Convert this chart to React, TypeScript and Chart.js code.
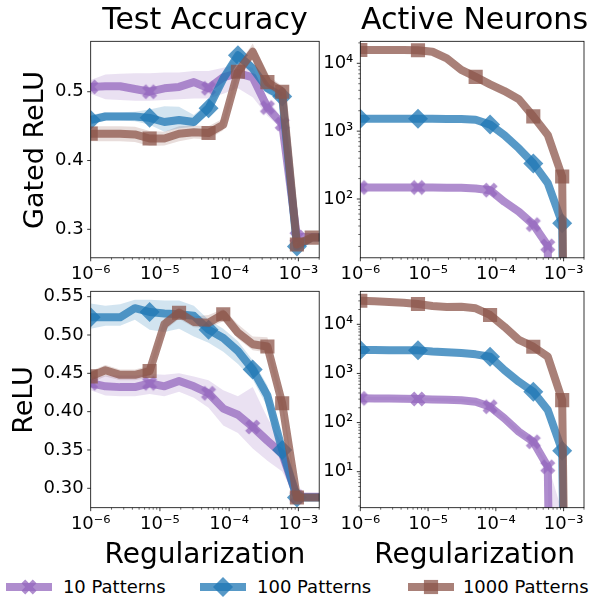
import React, { useEffect, useRef } from 'react';
import { Chart, registerables } from 'chart.js';

Chart.register(...registerables);

const FONT = "'DejaVu Sans', 'Liberation Sans', sans-serif";

// ---------------- data ----------------
// regularization strengths (x grid)
const REG = [1e-6, 1.63e-6, 2.66e-6, 4.35e-6, 7.1e-6, 1.16e-5, 1.89e-5, 3.09e-5, 5.04e-5, 8.22e-5, 1.34e-4, 2.19e-4, 3.57e-4, 5.84e-4, 9.53e-4, 1.56e-3, 2.54e-3];

const SERIES_NAMES = ['10 Patterns', '100 Patterns', '1000 Patterns'];
const SERIES_RGB = ['148,103,189', '31,119,180', '140,86,75'];
const SERIES_MARKERS = ['X', 'diamond', 'square'];

// Gated ReLU - test accuracy
const GATED_ACC_10 = [0.507, 0.508, 0.508, 0.504, 0.500, 0.505, 0.507, 0.514, 0.505, 0.521, 0.527, 0.521, 0.477, 0.453, 0.289, 0.289, 0.289];
const GATED_ACC_10_LO = [0.497, 0.489, 0.488, 0.487, 0.487, 0.488, 0.489, 0.490, 0.490, 0.497, 0.505, 0.492, 0.465, 0.445, 0.285, 0.285, 0.285];
const GATED_ACC_10_HI = [0.517, 0.525, 0.526, 0.527, 0.527, 0.528, 0.528, 0.530, 0.530, 0.535, 0.540, 0.535, 0.490, 0.461, 0.293, 0.293, 0.293];
const GATED_ACC_100 = [0.459, 0.464, 0.464, 0.464, 0.462, 0.456, 0.459, 0.456, 0.476, 0.519, 0.553, 0.534, 0.505, 0.493, 0.275, 0.288, 0.288];
const GATED_ACC_100_LO = [0.452, 0.458, 0.458, 0.457, 0.452, 0.442, 0.447, 0.449, 0.468, 0.510, 0.545, 0.525, 0.497, 0.487, 0.270, 0.284, 0.284];
const GATED_ACC_100_HI = [0.466, 0.470, 0.470, 0.471, 0.474, 0.479, 0.478, 0.466, 0.485, 0.528, 0.560, 0.542, 0.512, 0.500, 0.281, 0.292, 0.292];
const GATED_ACC_1000 = [0.439, 0.439, 0.439, 0.438, 0.432, 0.432, 0.439, 0.441, 0.440, 0.452, 0.529, 0.558, 0.514, 0.500, 0.278, 0.288, 0.288];
const GATED_ACC_1000_LO = [0.428, 0.428, 0.428, 0.427, 0.421, 0.422, 0.428, 0.432, 0.431, 0.444, 0.520, 0.546, 0.505, 0.492, 0.273, 0.284, 0.284];
const GATED_ACC_1000_HI = [0.450, 0.450, 0.450, 0.449, 0.443, 0.442, 0.450, 0.451, 0.450, 0.461, 0.538, 0.570, 0.525, 0.508, 0.283, 0.292, 0.292];
const GATED_ACC_MARKS = [[0, 4, 8, 12, 13, 14], [0, 4, 8, 10, 13, 14], [0, 4, 8, 10, 12, 13, 14, 15]];

// Gated ReLU - active neurons
const GATED_NEU_10 = [148, 148, 148, 148, 148, 148, 147, 146, 143, 135, 91, 65, 42, 20.4, 0, 0, 0];
const GATED_NEU_100 = [1520, 1520, 1520, 1520, 1520, 1520, 1515, 1505, 1470, 1250, 870, 557, 335, 172, 44, 0, 0];
const GATED_NEU_1000 = [15700, 15700, 15700, 15700, 15600, 14800, 11800, 8000, 6300, 4900, 3900, 2950, 1650, 880, 215, 0, 0];
const GATED_NEU_MARKS = [[0, 4, 9, 12, 13], [0, 4, 9, 12, 14], [0, 4, 8, 12, 14]];

// ReLU - test accuracy
const RELU_ACC_10 = [0.437, 0.433, 0.432, 0.432, 0.437, 0.433, 0.440, 0.433, 0.424, 0.404, 0.396, 0.380, 0.362, 0.345, 0.289, 0.289, 0.289];
const RELU_ACC_10_LO = [0.428, 0.421, 0.420, 0.420, 0.423, 0.420, 0.426, 0.418, 0.405, 0.382, 0.372, 0.352, 0.336, 0.322, 0.285, 0.285, 0.285];
const RELU_ACC_10_HI = [0.444, 0.447, 0.447, 0.447, 0.449, 0.448, 0.450, 0.446, 0.441, 0.428, 0.420, 0.432, 0.392, 0.358, 0.293, 0.293, 0.293];
const RELU_ACC_100 = [0.523, 0.523, 0.523, 0.535, 0.530, 0.528, 0.527, 0.525, 0.507, 0.496, 0.479, 0.455, 0.421, 0.350, 0.288, 0.288, 0.288];
const RELU_ACC_100_LO = [0.508, 0.512, 0.512, 0.520, 0.507, 0.504, 0.508, 0.498, 0.490, 0.478, 0.462, 0.442, 0.406, 0.338, 0.284, 0.284, 0.284];
const RELU_ACC_100_HI = [0.541, 0.538, 0.540, 0.546, 0.546, 0.545, 0.545, 0.538, 0.520, 0.508, 0.492, 0.467, 0.434, 0.362, 0.292, 0.292, 0.292];
const RELU_ACC_1000 = [0.446, 0.454, 0.448, 0.448, 0.453, 0.514, 0.529, 0.517, 0.516, 0.527, 0.503, 0.488, 0.485, 0.411, 0.288, 0.288, 0.288];
const RELU_ACC_1000_LO = [0.438, 0.446, 0.441, 0.441, 0.445, 0.506, 0.521, 0.510, 0.509, 0.518, 0.495, 0.480, 0.477, 0.404, 0.284, 0.284, 0.284];
const RELU_ACC_1000_HI = [0.453, 0.461, 0.455, 0.455, 0.460, 0.522, 0.536, 0.524, 0.526, 0.534, 0.514, 0.498, 0.497, 0.418, 0.292, 0.292, 0.292];
const RELU_ACC_MARKS = [[0, 4, 8, 11, 14], [0, 4, 8, 11, 13, 14], [0, 4, 6, 9, 12, 13, 14]];

// ReLU - active neurons
const RELU_NEU_10 = [311, 310, 308, 305, 302, 295, 290, 285, 265, 210, 122, 65, 40.6, 12.6, 0, 0, 0];
const RELU_NEU_10_LO = [290, 289, 287, 284, 281, 274, 269, 264, 246, 193, 111, 58, 36, 11, 0, 0, 0];
const RELU_NEU_10_HI = [335, 333, 331, 328, 325, 318, 312, 307, 286, 228, 134, 72, 45, 14.5, 1.5, 0, 0];
const RELU_NEU_100 = [3000, 3000, 2980, 2960, 2950, 2800, 2700, 2600, 2450, 2190, 1170, 676, 424, 180, 26.7, 0, 0];
const RELU_NEU_1000 = [30200, 29500, 28500, 27500, 25900, 23600, 22500, 22800, 21200, 15500, 8900, 4800, 3500, 2200, 287, 0, 0];
const RELU_NEU_MARKS = [[0, 4, 9, 12, 13], [0, 4, 9, 12, 14], [0, 4, 9, 12, 14]];

// axis ranges / ticks
const X_MIN = 1e-6;
const X_MAX = 2e-3;
const X_MAJOR = [1e-6, 1e-5, 1e-4, 1e-3];
const ACC_TOP_TICKS = [0.3, 0.4, 0.5];
const ACC_TOP_LABELS = ['0.3', '0.4', '0.5'];
const ACC_BOT_TICKS = [0.3, 0.35, 0.4, 0.45, 0.5, 0.55];
const ACC_BOT_LABELS = ['0.30', '0.35', '0.40', '0.45', '0.50', '0.55'];
const NEU_TOP_MAJOR = [1e2, 1e3, 1e4];
const NEU_BOT_MAJOR = [1e1, 1e2, 1e3, 1e4];

// ---------------- helpers ----------------
const TINY = 1e-20;
const SUP: Record<string, string> = { '-': '\u207B', '0': '\u2070', '1': '\u00B9', '2': '\u00B2', '3': '\u00B3', '4': '\u2074', '5': '\u2075', '6': '\u2076', '7': '\u2077', '8': '\u2078', '9': '\u2079' };
const isPow10 = (v: number) => Math.abs(Math.log10(v) - Math.round(Math.log10(v))) < 1e-6;
const pow10Label = (v: number) => '10' + String(Math.round(Math.log10(v))).split('').map((c) => SUP[c]).join('');

function logTicks(min: number, max: number): number[] {
  const out: number[] = [];
  for (let e = Math.floor(Math.log10(min)); e <= Math.ceil(Math.log10(max)); e++) {
    for (let m = 1; m <= 9; m++) {
      const v = m * Math.pow(10, e);
      if (v >= min * 0.9999 && v <= max * 1.0001) out.push(v);
    }
  }
  return out;
}

const PLUS = [[-1, -3], [1, -3], [1, -1], [3, -1], [3, 1], [1, 1], [1, 3], [-1, 3], [-1, 1], [-3, 1], [-3, -1], [-1, -1]];
function xShape(cx: number, cy: number, m: number): number[][] {
  const c = Math.SQRT1_2;
  return PLUS.map(([a, b]) => [cx + ((a - b) * c) / 6 * m, cy + ((a + b) * c) / 6 * m]);
}

function makeXCanvas(color: string, m: number) {
  const s = Math.ceil(m) + 4;
  const c = document.createElement('canvas');
  c.width = s;
  c.height = s;
  const g = c.getContext('2d')!;
  const pts = xShape(s / 2, s / 2, m);
  g.beginPath();
  pts.forEach(([x, y], i) => (i ? g.lineTo(x, y) : g.moveTo(x, y)));
  g.closePath();
  g.fillStyle = color;
  g.fill();
  return c;
}

const ALPHA = 0.75;
const BAND_ALPHA = 0.2;
const LINE_W = 8;
const MARK_R = 10;

type Series = { y: number[]; lo?: number[]; hi?: number[]; marks: number[] };
type PanelDef = {
  key: string;
  area: { l: number; t: number; r: number; b: number };
  log: boolean;
  yMin: number;
  yMax: number;
  yTicks: number[];
  yLabels?: string[];
  series: Series[];
};

const TOP_T = 41.3, TOP_B = 257.8, BOT_T = 291.3, BOT_B = 507.7;
const LEFT_L = 90.7, LEFT_R = 319.2, RIGHT_L = 360.3, RIGHT_R = 588.8;

const PANELS: PanelDef[] = [
  {
    key: 'gated-acc', area: { l: LEFT_L, t: TOP_T, r: LEFT_R, b: TOP_B }, log: false,
    yMin: 0.2586, yMax: 0.5733, yTicks: ACC_TOP_TICKS, yLabels: ACC_TOP_LABELS,
    series: [
      { y: GATED_ACC_10, lo: GATED_ACC_10_LO, hi: GATED_ACC_10_HI, marks: GATED_ACC_MARKS[0] },
      { y: GATED_ACC_100, lo: GATED_ACC_100_LO, hi: GATED_ACC_100_HI, marks: GATED_ACC_MARKS[1] },
      { y: GATED_ACC_1000, lo: GATED_ACC_1000_LO, hi: GATED_ACC_1000_HI, marks: GATED_ACC_MARKS[2] },
    ],
  },
  {
    key: 'gated-neu', area: { l: RIGHT_L, t: TOP_T, r: RIGHT_R, b: TOP_B }, log: true,
    yMin: 13.6, yMax: 21100, yTicks: NEU_TOP_MAJOR,
    series: [
      { y: GATED_NEU_10, marks: GATED_NEU_MARKS[0] },
      { y: GATED_NEU_100, marks: GATED_NEU_MARKS[1] },
      { y: GATED_NEU_1000, marks: GATED_NEU_MARKS[2] },
    ],
  },
  {
    key: 'relu-acc', area: { l: LEFT_L, t: BOT_T, r: LEFT_R, b: BOT_B }, log: false,
    yMin: 0.2747, yMax: 0.557, yTicks: ACC_BOT_TICKS, yLabels: ACC_BOT_LABELS,
    series: [
      { y: RELU_ACC_10, lo: RELU_ACC_10_LO, hi: RELU_ACC_10_HI, marks: RELU_ACC_MARKS[0] },
      { y: RELU_ACC_100, lo: RELU_ACC_100_LO, hi: RELU_ACC_100_HI, marks: RELU_ACC_MARKS[1] },
      { y: RELU_ACC_1000, lo: RELU_ACC_1000_LO, hi: RELU_ACC_1000_HI, marks: RELU_ACC_MARKS[2] },
    ],
  },
  {
    key: 'relu-neu', area: { l: RIGHT_L, t: BOT_T, r: RIGHT_R, b: BOT_B }, log: true,
    yMin: 1.85, yMax: 47000, yTicks: NEU_BOT_MAJOR,
    series: [
      { y: RELU_NEU_10, lo: RELU_NEU_10_LO, hi: RELU_NEU_10_HI, marks: RELU_NEU_MARKS[0] },
      { y: RELU_NEU_100, marks: RELU_NEU_MARKS[1] },
      { y: RELU_NEU_1000, marks: RELU_NEU_MARKS[2] },
    ],
  },
];

function canvasBox(p: PanelDef) {
  const cl = Math.floor(p.area.l - 72);
  const ct = Math.floor(p.area.t - 14);
  const cr = Math.min(594, Math.ceil(p.area.r + 16));
  const cb = Math.ceil(p.area.b + 34);
  return { cl, ct, cr, cb, w: cr - cl, h: cb - ct };
}

const axesPlugin = {
  id: 'mplAxes',
  afterDraw(chart: any) {
    const { ctx, chartArea: a } = chart;
    ctx.save();
    ctx.strokeStyle = '#000';
    const xs = chart.scales.x;
    const ys = chart.scales.y;
    for (const t of xs.ticks) {
      const major = isPow10(t.value);
      const px = xs.getPixelForValue(t.value);
      if (px < a.left - 0.5 || px > a.right + 0.5) continue;
      ctx.lineWidth = major ? 0.8 : 0.6;
      ctx.beginPath();
      ctx.moveTo(px, a.bottom);
      ctx.lineTo(px, a.bottom + (major ? 3.5 : 2));
      ctx.stroke();
    }
    const yLog = ys.type === 'logarithmic';
    for (const t of ys.ticks) {
      const major = !yLog || isPow10(t.value);
      const py = ys.getPixelForValue(t.value);
      if (py < a.top - 0.5 || py > a.bottom + 0.5) continue;
      ctx.lineWidth = major ? 0.8 : 0.6;
      ctx.beginPath();
      ctx.moveTo(a.left, py);
      ctx.lineTo(a.left - (major ? 3.5 : 2), py);
      ctx.stroke();
    }
    ctx.lineWidth = 0.8;
    ctx.strokeRect(a.left, a.top, a.right - a.left, a.bottom - a.top);
    ctx.restore();
  },
};

function buildConfig(p: PanelDef): any {
  const box = canvasBox(p);
  const fix = (v: number) => (p.log && v <= 0 ? TINY : v);
  const pts = (arr: number[]) => REG.map((x, i) => ({ x, y: fix(arr[i]) }));
  const lines: any[] = [];
  const bands: any[] = [];
  p.series.forEach((s, i) => {
    const rgb = SERIES_RGB[i];
    const col = `rgba(${rgb},${ALPHA})`;
    const kind = SERIES_MARKERS[i];
    const style = kind === 'X' ? makeXCanvas(col, 16) : kind === 'diamond' ? 'rectRot' : 'rect';
    lines.push({
      label: SERIES_NAMES[i],
      data: pts(s.y),
      borderColor: col,
      borderWidth: LINE_W,
      borderJoinStyle: 'round',
      borderCapStyle: 'butt',
      backgroundColor: col,
      pointStyle: style,
      pointRadius: REG.map((_, k) => (s.marks.includes(k) ? MARK_R : 0)),
      pointHoverRadius: 0,
      pointBackgroundColor: col,
      pointBorderWidth: 0,
      pointBorderColor: 'transparent',
      fill: false,
      tension: 0,
      clip: 0,
      order: 3 - i,
    });
  });
  p.series.forEach((s, i) => {
    if (!s.hi || !s.lo) return;
    const band = `rgba(${SERIES_RGB[i]},${BAND_ALPHA})`;
    bands.push({
      label: SERIES_NAMES[i] + ' hi',
      data: pts(s.hi),
      borderColor: 'transparent',
      borderWidth: 1,
      backgroundColor: band,
      pointRadius: 0,
      fill: '+1',
      tension: 0,
      clip: 0,
      order: 10,
    });
    bands.push({
      label: SERIES_NAMES[i] + ' lo',
      data: pts(s.lo),
      borderColor: 'transparent',
      borderWidth: 1,
      backgroundColor: band,
      pointRadius: 0,
      fill: false,
      tension: 0,
      clip: 0,
      order: 10,
    });
  });

  const xTicks = logTicks(X_MIN, X_MAX);
  const yTicks = p.log ? logTicks(p.yMin, p.yMax) : p.yTicks;
  const tickFont = { family: FONT, size: 18 };

  return {
    type: 'line',
    data: { datasets: [...lines, ...bands] },
    plugins: [axesPlugin],
    options: {
      responsive: false,
      maintainAspectRatio: false,
      animation: false,
      devicePixelRatio: 1,
      events: [],
      layout: { padding: { left: 0, top: p.area.t - box.ct, right: box.cr - p.area.r, bottom: 0 } },
      plugins: {
        legend: { display: false },
        tooltip: { enabled: false },
        filler: { drawTime: 'beforeDatasetsDraw' },
      },
      scales: {
        x: {
          type: 'logarithmic',
          min: X_MIN,
          max: X_MAX,
          bounds: 'data',
          grid: { display: false, drawTicks: false },
          border: { display: false },
          ticks: {
            autoSkip: false,
            maxRotation: 0,
            minRotation: 0,
            padding: 6,
            color: '#000',
            font: tickFont,
            callback: (v: number) => (X_MAJOR.some((m) => Math.abs(m - v) / m < 1e-6) ? pow10Label(v) : ''),
          },
          afterBuildTicks: (s: any) => {
            s.ticks = xTicks.map((v) => ({ value: v }));
          },
          afterFit: (s: any) => {
            s.height = box.cb - p.area.b;
            s.paddingLeft = 0; s.paddingRight = 0; s.paddingTop = 0; s.paddingBottom = 0;
          },
        },
        y: {
          type: p.log ? 'logarithmic' : 'linear',
          min: p.yMin,
          max: p.yMax,
          bounds: 'data',
          grid: { display: false, drawTicks: false },
          border: { display: false },
          ticks: {
            autoSkip: false,
            padding: 7,
            color: '#000',
            font: tickFont,
            callback: (v: number) => {
              if (p.log) return p.yTicks.some((m) => Math.abs(m - v) / m < 1e-6) ? pow10Label(v) : '';
              const idx = p.yTicks.findIndex((m) => Math.abs(m - v) < 1e-9);
              return idx >= 0 && p.yLabels ? p.yLabels[idx] : '';
            },
          },
          afterBuildTicks: (s: any) => {
            s.ticks = yTicks.map((v) => ({ value: v }));
          },
          afterFit: (s: any) => {
            s.width = p.area.l - box.cl;
            s.paddingLeft = 0; s.paddingRight = 0; s.paddingTop = 0; s.paddingBottom = 0;
          },
        },
      },
    },
  };
}

function Panel({ p }: { p: PanelDef }) {
  const ref = useRef<HTMLCanvasElement>(null);
  const box = canvasBox(p);
  useEffect(() => {
    const chart = new Chart(ref.current as HTMLCanvasElement, buildConfig(p));
    return () => chart.destroy();
  }, []);
  return (
    <canvas
      ref={ref}
      width={box.w}
      height={box.h}
      style={{ position: 'absolute', left: box.cl, top: box.ct, width: box.w, height: box.h }}
    />
  );
}

function Label({ x, y, size, rotate, children }: { x: number; y: number; size: number; rotate?: boolean; children: any }) {
  return (
    <div
      style={{
        position: 'absolute',
        left: x,
        top: y,
        transform: `translate(-50%, -50%)${rotate ? ' rotate(-90deg)' : ''}`,
        fontFamily: FONT,
        fontSize: size,
        lineHeight: 1,
        whiteSpace: 'nowrap',
        color: '#000',
      }}
    >
      {children}
    </div>
  );
}

function LegendMarker({ i }: { i: number }) {
  const col = `rgba(${SERIES_RGB[i]},${ALPHA})`;
  const w = 46, h = 24, cx = w / 2, cy = h / 2;
  let marker: any;
  if (SERIES_MARKERS[i] === 'X') {
    marker = <polygon points={xShape(cx, cy, 16).map((q) => q.join(',')).join(' ')} fill={col} />;
  } else if (SERIES_MARKERS[i] === 'diamond') {
    marker = <polygon points={`${cx - MARK_R},${cy} ${cx},${cy - MARK_R} ${cx + MARK_R},${cy} ${cx},${cy + MARK_R}`} fill={col} />;
  } else {
    const s = MARK_R * Math.SQRT2;
    marker = <rect x={cx - s / 2} y={cy - s / 2} width={s} height={s} fill={col} />;
  }
  return (
    <svg width={w} height={h} style={{ display: 'block' }}>
      <line x1={0} y1={cy} x2={w} y2={cy} stroke={col} strokeWidth={LINE_W} />
      {marker}
    </svg>
  );
}

const LEGEND_X = [5.7, 200, 407.6];
const LEGEND_TEXT_X = [62.9, 257, 462.9];
const LEGEND_Y = 587;

export default function App() {
  return (
    <div style={{ position: 'absolute', left: 0, top: 0, width: 594, height: 597, overflow: 'hidden', background: '#fff' }}>
      {PANELS.map((p) => (
        <Panel key={p.key} p={p} />
      ))}
      <Label x={(LEFT_L + LEFT_R) / 2} y={19} size={30}>Test Accuracy</Label>
      <Label x={(RIGHT_L + RIGHT_R) / 2} y={19} size={30}>Active Neurons</Label>
      <Label x={32.5} y={(TOP_T + TOP_B) / 2} size={27} rotate>Gated ReLU</Label>
      <Label x={22} y={(BOT_T + BOT_B) / 2} size={27} rotate>ReLU</Label>
      <Label x={(LEFT_L + LEFT_R) / 2} y={554} size={28}>Regularization</Label>
      <Label x={(RIGHT_L + RIGHT_R) / 2} y={554} size={28}>Regularization</Label>
      {SERIES_NAMES.map((name, i) => (
        <React.Fragment key={name}>
          <div style={{ position: 'absolute', left: LEGEND_X[i], top: LEGEND_Y - 12 }}>
            <LegendMarker i={i} />
          </div>
          <div
            style={{
              position: 'absolute',
              left: LEGEND_TEXT_X[i],
              top: LEGEND_Y,
              transform: 'translateY(-50%)',
              fontFamily: FONT,
              fontSize: 18,
              lineHeight: 1,
              whiteSpace: 'nowrap',
              color: '#000',
            }}
          >
            {name}
          </div>
        </React.Fragment>
      ))}
    </div>
  );
}
